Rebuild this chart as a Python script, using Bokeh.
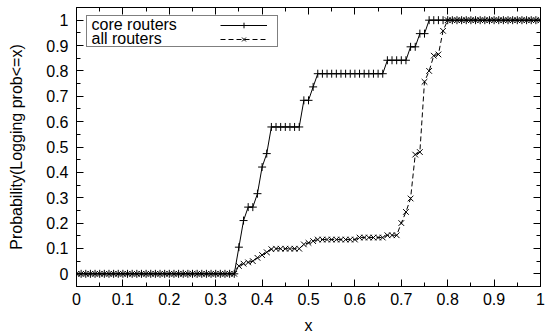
from bokeh.plotting import figure
from bokeh.models import Range1d, FixedTicker, LinearAxis, Legend, LegendItem, Label
from bokeh.embed import file_html
from bokeh.resources import INLINE

x_vals = [0.00, 0.01, 0.02, 0.03, 0.04, 0.05, 0.06, 0.07, 0.08, 0.09,
          0.10, 0.11, 0.12, 0.13, 0.14, 0.15, 0.16, 0.17, 0.18, 0.19,
          0.20, 0.21, 0.22, 0.23, 0.24, 0.25, 0.26, 0.27, 0.28, 0.29,
          0.30, 0.31, 0.32, 0.33, 0.34, 0.35, 0.36, 0.37, 0.38, 0.39,
          0.40, 0.41, 0.42, 0.43, 0.44, 0.45, 0.46, 0.47, 0.48, 0.49,
          0.50, 0.51, 0.52, 0.53, 0.54, 0.55, 0.56, 0.57, 0.58, 0.59,
          0.60, 0.61, 0.62, 0.63, 0.64, 0.65, 0.66, 0.67, 0.68, 0.69,
          0.70, 0.71, 0.72, 0.73, 0.74, 0.75, 0.76, 0.77, 0.78, 0.79,
          0.80, 0.81, 0.82, 0.83, 0.84, 0.85, 0.86, 0.87, 0.88, 0.89,
          0.90, 0.91, 0.92, 0.93, 0.94, 0.95, 0.96, 0.97, 0.98, 0.99,
          1.00]

core_routers = [0, 0, 0, 0, 0, 0, 0, 0, 0, 0,
                0, 0, 0, 0, 0, 0, 0, 0, 0, 0,
                0, 0, 0, 0, 0, 0, 0, 0, 0, 0,
                0, 0, 0, 0, 0, 0.105, 0.21, 0.263, 0.263, 0.316,
                0.421, 0.474, 0.579, 0.579, 0.579, 0.579, 0.579, 0.579, 0.579, 0.684,
                0.684, 0.737, 0.789, 0.789, 0.789, 0.789, 0.789, 0.789, 0.789, 0.789,
                0.789, 0.789, 0.789, 0.789, 0.789, 0.789, 0.789, 0.842, 0.842, 0.842,
                0.842, 0.842, 0.895, 0.895, 0.947, 0.947, 1, 1, 1, 1,
                1, 1, 1, 1, 1, 1, 1, 1, 1, 1,
                1, 1, 1, 1, 1, 1, 1, 1, 1, 1,
                1]

all_routers = [0, 0, 0, 0, 0, 0, 0, 0, 0, 0,
               0, 0, 0, 0, 0, 0, 0, 0, 0, 0,
               0, 0, 0, 0, 0, 0, 0, 0, 0, 0,
               0, 0, 0, 0, 0, 0.031, 0.040, 0.045, 0.050, 0.063,
               0.074, 0.085, 0.097, 0.099, 0.099, 0.099, 0.099, 0.099, 0.099, 0.116,
               0.122, 0.129, 0.135, 0.135, 0.135, 0.135, 0.135, 0.135, 0.135, 0.135,
               0.135, 0.143, 0.143, 0.143, 0.143, 0.143, 0.143, 0.152, 0.152, 0.152,
               0.200, 0.244, 0.297, 0.470, 0.480, 0.757, 0.800, 0.860, 0.865, 0.958,
               1, 1, 1, 1, 1, 1, 1, 1, 1, 1,
               1, 1, 1, 1, 1, 1, 1, 1, 1, 1,
               1]

series_labels = ["core routers", "all routers"]

tick_values = [0, 0.1, 0.2, 0.3, 0.4, 0.5, 0.6, 0.7, 0.8, 0.9, 1]
tick_labels = ["0", "0.1", "0.2", "0.3", "0.4", "0.5", "0.6", "0.7", "0.8", "0.9", "1"]
minor_values = [0.05, 0.15, 0.25, 0.35, 0.45, 0.55, 0.65, 0.75, 0.85, 0.95]

FONT = "Liberation Sans"
FS = "16px"

p = figure(width=545, height=336, output_backend="svg", toolbar_location=None,
           x_range=Range1d(0, 1), y_range=Range1d(-0.05, 1.05),
           min_border_left=76, min_border_right=5, min_border_top=7, min_border_bottom=50)
p.grid.visible = False
p.outline_line_color = "black"
p.outline_line_width = 1
p.background_fill_color = "white"
p.border_fill_color = "white"

def style_axis(ax, show_labels):
    ax.ticker = FixedTicker(ticks=tick_values, minor_ticks=minor_values)
    ax.axis_line_color = "black"
    ax.major_tick_line_color = "black"
    ax.minor_tick_line_color = "black"
    ax.major_tick_in = 7
    ax.major_tick_out = 0
    ax.minor_tick_in = 4
    ax.minor_tick_out = 0
    if show_labels:
        ax.major_label_overrides = dict(zip(tick_values, tick_labels))
        ax.major_label_text_font = FONT
        ax.major_label_text_font_size = FS
        ax.major_label_text_color = "black"
        ax.axis_label_text_font = FONT
        ax.axis_label_text_font_size = FS
        ax.axis_label_text_font_style = "normal"
        ax.axis_label_text_color = "black"
    else:
        ax.major_label_overrides = dict(zip(tick_values, [""] * len(tick_values)))
        ax.major_label_standoff = 0
        ax.axis_label = None

xa = p.xaxis[0]
style_axis(xa, True)
xa.axis_label = "x"
xa.major_label_standoff = 6
xa.axis_label_standoff = 9

ya = p.yaxis[0]
style_axis(ya, True)
ya.axis_label = "Probability(Logging prob<=x)"
ya.major_label_standoff = 8
ya.axis_label_standoff = 18

top_ax = LinearAxis()
style_axis(top_ax, False)
p.add_layout(top_ax, "above")
right_ax = LinearAxis()
style_axis(right_ax, False)
p.add_layout(right_ax, "right")

core_line = p.line(x_vals, core_routers, line_color="black", line_width=1)
core_mark = p.scatter(x_vals, core_routers, marker="cross", size=8,
                      line_color="black", line_width=1)
all_line = p.line(x_vals, all_routers, line_color="black", line_width=1, line_dash="5 3")
all_mark = p.scatter(x_vals, all_routers, marker="x", size=8,
                     line_color="black", line_width=1)

# legend frame (box only, transparent so the texts show)
legend_box = Legend(items=[LegendItem(label="", renderers=[]),
                           LegendItem(label="", renderers=[])],
                    location=(10, 239), margin=0, padding=1, spacing=0,
                    glyph_width=0, glyph_height=14, label_height=14,
                    label_standoff=0, label_width=188,
                    label_text_font=FONT, label_text_font_size="1px",
                    border_line_color="black", border_line_width=1,
                    background_fill_alpha=0)
p.add_layout(legend_box, "center")

# legend samples (right side of box, gnuplot style)
legend_glyphs = Legend(items=[LegendItem(label="", renderers=[core_line, core_mark]),
                              LegendItem(label="", renderers=[all_line, all_mark])],
                       location=(143, 239), margin=0, padding=1, spacing=0,
                       glyph_width=47, glyph_height=14, label_height=14,
                       label_standoff=0, label_width=0,
                       label_text_font=FONT, label_text_font_size="1px",
                       border_line_alpha=0, background_fill_alpha=0)
p.add_layout(legend_glyphs, "center")

# legend texts (left side of box)
for name, ybase in zip(series_labels, [262.5, 248.5]):
    p.add_layout(Label(x=15, y=ybase, x_units="screen", y_units="screen",
                       text=name, text_font=FONT, text_font_size=FS,
                       text_color="black", text_baseline="alphabetic",
                       text_align="left"))

open("out.html", "w").write(file_html(p, INLINE))
